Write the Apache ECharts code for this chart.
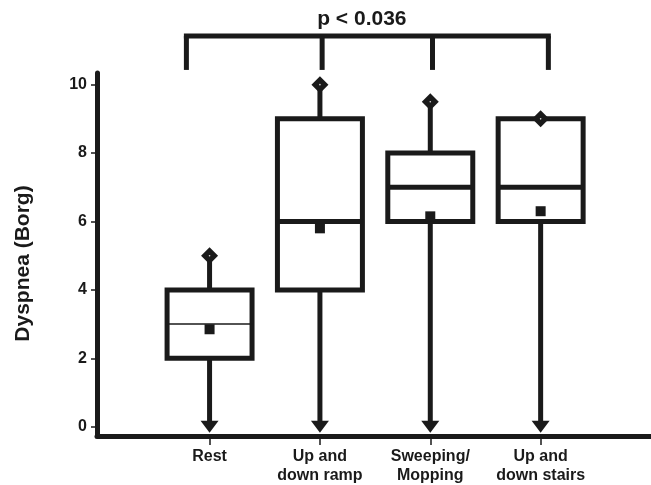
<!DOCTYPE html>
<html>
<head>
<meta charset="utf-8">
<script src="https://cdn.jsdelivr.net/npm/echarts@6/dist/echarts.min.js"></script>
<style>html,body{margin:0;padding:0;background:#fff}#c{width:651px;height:485px}</style>
</head>
<body>
<div id="c"></div>
<script>
// ---- data ----
const categories = ['Rest', 'Up and\ndown ramp', 'Sweeping/\nMopping', 'Up and\ndown stairs'];
const minVals = [0, 0, 0, 0];
const q1Vals = [2, 4, 6, 6];
const medianVals = [3, 6, 7, 7];
const q3Vals = [4, 9, 8, 9];
const maxVals = [5, 10, 9.5, 9];
const meanVals = [2.85, 5.8, 6.15, 6.3];
const yTicks = [0, 2, 4, 6, 8, 10];
const pLabel = 'p < 0.036';
// bracket annotation anchors (data x) and levels (data y)
const bracketAnchors = [-0.21, 1.02, 2.02, 3.07];
const bracketLevels = [11.42, 10.43, 11.9];

const INK = '#1a1a1a';
const medianWidths = [1.5, 5, 5, 5];

const boxData = categories.map((c, i) => [i, minVals[i], q1Vals[i], medianVals[i], q3Vals[i], maxVals[i], meanVals[i]]);

function renderBox(params, api) {
  const i = params.dataIndex;
  const x = api.value(0);
  const pMin = api.coord([x, api.value(1)]);
  const pQ1 = api.coord([x, api.value(2)]);
  const pMed = api.coord([x, api.value(3)]);
  const pQ3 = api.coord([x, api.value(4)]);
  const pMax = api.coord([x, api.value(5)]);
  const pMean = api.coord([x, api.value(6)]);
  const half = api.size([0.77, 0])[0] / 2;
  const cx = pMed[0];
  const children = [];
  // whiskers
  children.push({type: 'line', shape: {x1: cx, y1: pQ3[1], x2: cx, y2: pMax[1]}, style: {stroke: INK, lineWidth: 5}});
  children.push({type: 'line', shape: {x1: cx, y1: pQ1[1], x2: cx, y2: pMin[1]}, style: {stroke: INK, lineWidth: 5}});
  // box
  children.push({type: 'rect', shape: {x: cx - half, y: pQ3[1], width: half * 2, height: pQ1[1] - pQ3[1]},
    style: {fill: '#fff', stroke: INK, lineWidth: 5}});
  // median
  children.push({type: 'line', shape: {x1: cx - half, y1: pMed[1], x2: cx + half, y2: pMed[1]},
    style: {stroke: INK, lineWidth: medianWidths[i]}});
  // mean square
  children.push({type: 'rect', shape: {x: cx - 5, y: pMean[1] - 5, width: 10, height: 10}, style: {fill: INK}});
  // max diamond
  const d = 8.5;
  children.push({type: 'polygon', shape: {points: [[cx, pMax[1] - d], [cx + d, pMax[1]], [cx, pMax[1] + d], [cx - d, pMax[1]]]},
    style: {fill: INK}});
  children.push({type: 'circle', shape: {cx: cx, cy: pMax[1], r: 0.8}, style: {fill: '#ddd'}});
  // min triangle
  children.push({type: 'polygon', shape: {points: [[cx - 9, pMin[1] - 6], [cx + 9, pMin[1] - 6], [cx, pMin[1] + 6]]},
    style: {fill: INK}});
  return {type: 'group', children: children};
}

function renderBracket(params, api) {
  const top = bracketLevels[0], bottom = bracketLevels[1], txt = bracketLevels[2];
  const children = [];
  const pL = api.coord([bracketAnchors[0], top]);
  const pR = api.coord([bracketAnchors[bracketAnchors.length - 1], top]);
  children.push({type: 'line', shape: {x1: pL[0] - 2.5, y1: pL[1], x2: pR[0] + 2.5, y2: pR[1]}, style: {stroke: INK, lineWidth: 5}});
  bracketAnchors.forEach(a => {
    const p1 = api.coord([a, top]);
    const p2 = api.coord([a, bottom]);
    children.push({type: 'line', shape: {x1: p1[0], y1: p1[1], x2: p2[0], y2: p2[1]}, style: {stroke: INK, lineWidth: 5}});
  });
  const pt = api.coord([(bracketAnchors[0] + bracketAnchors[3]) / 2 - 0.05, txt]);
  children.push({type: 'text', x: pt[0], y: pt[1], style: {text: pLabel, fill: '#1a1a1a', font: 'bold 21px "Liberation Sans", Arial, sans-serif',
    align: 'center', verticalAlign: 'middle'}});
  return {type: 'group', children: children};
}

const chart = echarts.init(document.getElementById('c'), null, {renderer: 'canvas'});
chart.setOption({
  animation: false,
  backgroundColor: '#fff',
  grid: {left: 97, right: 0, top: 73, bottom: 48, containLabel: false},
  xAxis: {
    type: 'value', min: -1.02, max: 4,
    axisLine: {onZero: false, lineStyle: {color: INK, width: 5}},
    axisTick: {show: true, customValues: [0, 1, 2, 3], length: 9, lineStyle: {color: INK, width: 1.5}},
    axisLabel: {customValues: [0, 1, 2, 3], formatter: v => categories[Math.round(v)], margin: 11,
      color: '#1a1a1a', fontSize: 16, fontWeight: 'bold', fontFamily: '"Liberation Sans", Arial, sans-serif', lineHeight: 19},
    splitLine: {show: false}
  },
  yAxis: {
    type: 'value', min: -0.27, max: 10.34,
    name: 'Dyspnea (Borg)', nameLocation: 'middle', nameGap: 63, nameRotate: 90,
    nameTextStyle: {color: '#1a1a1a', fontSize: 21, fontWeight: 'bold', fontFamily: '"Liberation Sans", Arial, sans-serif',
      padding: [0, 18, 0, 0]},
    axisLine: {onZero: false, lineStyle: {color: INK, width: 5}},
    axisTick: {show: true, customValues: yTicks, length: 6, lineStyle: {color: INK, width: 1.5}},
    axisLabel: {customValues: yTicks, margin: 10, color: '#1a1a1a', fontSize: 16, fontWeight: 'bold',
      fontFamily: '"Liberation Sans", Arial, sans-serif'},
    splitLine: {show: false}
  },
  series: [
    {type: 'custom', renderItem: renderBox, data: boxData, clip: false, encode: {x: 0, y: [1, 2, 3, 4, 5, 6]}},
    {type: 'custom', renderItem: renderBracket, data: [[0, 0]], clip: false, silent: true}
  ]
});
</script>
</body>
</html>
